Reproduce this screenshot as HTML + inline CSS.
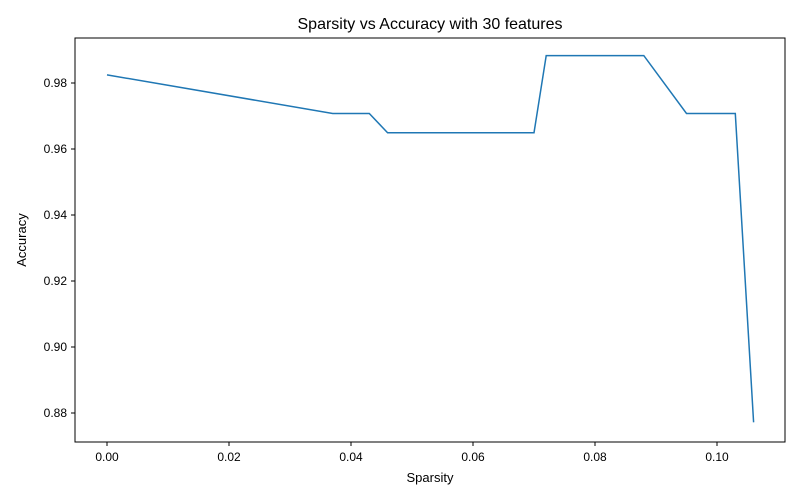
<!DOCTYPE html>
<html><head><meta charset="utf-8">
<style>
body{margin:0;background:#fff;}
svg{display:block;font-family:"Liberation Sans","DejaVu Sans",sans-serif;}
</style></head>
<body>
<svg id="chart" width="800" height="500">
<rect x="0" y="0" width="800" height="500" fill="#fff"/>
<text x="430" y="29" font-size="16" text-anchor="middle">Sparsity vs Accuracy with 30 features</text>
<text x="430" y="482" font-size="13" text-anchor="middle">Sparsity</text>
<text x="26" y="240" font-size="13" text-anchor="middle" transform="rotate(-90 26 240)">Accuracy</text>
<g id="xticks"></g>
<g id="yticks"></g>
<path id="line" fill="none" stroke="#1f77b4" stroke-width="1.5"/>
<rect x="75" y="38" width="710" height="404" fill="none" stroke="#000" stroke-width="1"/>
</svg>
<script>
const sparsity = [0, 0.037, 0.043, 0.046, 0.070, 0.072, 0.088, 0.095, 0.103, 0.106];
const accuracy = [0.98246, 0.97076, 0.97076, 0.96491, 0.96491, 0.98830, 0.98830, 0.97076, 0.97076, 0.87719];
const xTickValues = [0, 0.02, 0.04, 0.06, 0.08, 0.10];
const xTickLabels = ["0.00", "0.02", "0.04", "0.06", "0.08", "0.10"];
const yTickValues = [0.88, 0.90, 0.92, 0.94, 0.96, 0.98];
const yTickLabels = ["0.88", "0.90", "0.92", "0.94", "0.96", "0.98"];

function xs(v){return 107 + v * 6100;}
function ys(v){return 83 + (0.98 - v) * 3300;}
const NS = "http://www.w3.org/2000/svg";
const xg = document.getElementById('xticks');
xTickValues.forEach((v,i)=>{
  const l = document.createElementNS(NS,'line');
  l.setAttribute('x1',xs(v));l.setAttribute('x2',xs(v));
  l.setAttribute('y1',442);l.setAttribute('y2',446);
  l.setAttribute('stroke','#000');
  
  
  xg.appendChild(l);
  const t = document.createElementNS(NS,'text');
  t.setAttribute('x',xs(v));t.setAttribute('y',461);
  t.setAttribute('font-size','12');t.setAttribute('text-anchor','middle');
  t.textContent = xTickLabels[i];
  
  
  xg.appendChild(t);
});
const yg = document.getElementById('yticks');
yTickValues.forEach((v,i)=>{
  const l = document.createElementNS(NS,'line');
  l.setAttribute('x1',71);l.setAttribute('x2',75);
  l.setAttribute('y1',ys(v));l.setAttribute('y2',ys(v));
  l.setAttribute('stroke','#000');
  
  
  yg.appendChild(l);
  const t = document.createElementNS(NS,'text');
  t.setAttribute('x',67);t.setAttribute('y',ys(v)+4);
  t.setAttribute('font-size','12');t.setAttribute('text-anchor','end');
  t.textContent = yTickLabels[i];
  
  
  yg.appendChild(t);
});
document.getElementById('line').setAttribute('d',
  sparsity.map((s,i)=>(i?'L':'M')+xs(s).toFixed(2)+','+ys(accuracy[i]).toFixed(2)).join(' '));
</script>
</body></html>
